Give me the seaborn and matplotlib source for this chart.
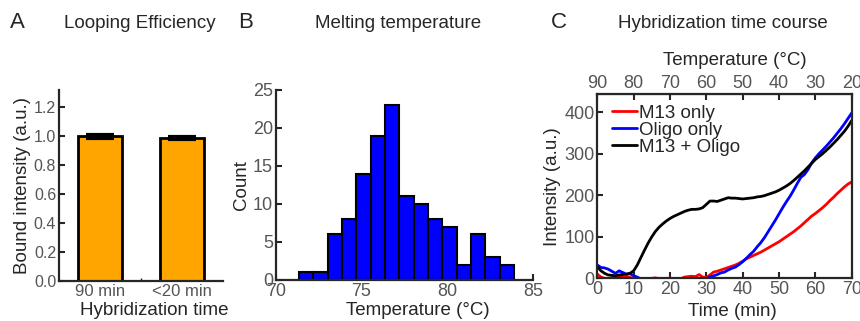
import numpy as np
import pandas as pd
import seaborn as sns
import matplotlib.pyplot as plt

# Panel A - looping efficiency
hyb_labels = ['90 min', '<20 min']
bound_intensity = [1.00, 0.99]
bound_err = [0.012, 0.008]

# Panel B - melting temperature histogram
bin_edges = list(np.linspace(71.36, 83.89, 16))
tm_counts = [1, 1, 6, 8, 14, 19, 23, 11, 10, 8, 7, 2, 6, 3, 2]

# Panel C - hybridization time course (one reading per minute)
time_min = np.arange(0, 71)
m13_only = [10, 3, 0, -2, 1, 2, 3, 2, 4, 2, -1, -4, -6, -5, -3, 0, 1, -1, -4, -2,
            1, -2, 0, -1, 3, 4, 5, 4, 9, 3, 2, 8, 15, 17, 20, 23, 26, 29, 32, 36,
            41, 47, 51, 55, 59, 63, 68, 73, 78, 83, 88, 94, 100, 106, 112, 119, 126, 134, 142, 150,
            156, 163, 170, 178, 187, 195, 204, 212, 220, 227, 232]
oligo_only = [32, 26, 25, 22, 17, 12, 18, 14, 10, 11, 6, 3, -2, -5, -6, -5, -7, -6, -5, -6,
              -5, -6, -7, -5, -6, -5, -6, -5, -4, -3, -1, 3, 6, 9, 13, 15, 20, 24, 27, 33,
              40, 48, 57, 65, 76, 86, 98, 112, 126, 140, 155, 170, 184, 197, 212, 228, 243, 250, 262, 278,
              290, 300, 309, 318, 328, 338, 349, 360, 372, 385, 398]
m13_oligo = [28, 18, 12, 8, 7, 6, 8, 9, 10, 12, 18, 32, 50, 68, 85, 100, 113, 123, 131, 138,
             144, 149, 153, 157, 161, 164, 166, 166, 167, 170, 178, 186, 186, 185, 188, 191, 194, 193, 193, 192,
             191, 192, 193, 194, 196, 197, 199, 202, 205, 208, 212, 217, 222, 228, 235, 243, 251, 259, 268, 277,
             286, 293, 300, 308, 316, 325, 334, 344, 354, 366, 380]

sns.set_style('ticks')
plt.rcParams['font.family'] = ['Liberation Sans', 'DejaVu Sans']
grey = '#555555'

fig = plt.figure(figsize=(8.6, 3.21), dpi=100)

def style_axes(ax, tick_size):
    for s in ax.spines.values():
        s.set_linewidth(1.6)
    ax.tick_params(direction='in', length=4, width=1.5, labelsize=tick_size,
                   labelcolor=grey, pad=2)

def place_xlabel(axis, x, y, transform=None):
    axis.set_label_coords(x, y, transform=transform)
    axis.label.set_va('center')

# ---- A
axA = fig.add_axes([59/860, 40/321, 164/860, 191/321])
dfA = pd.DataFrame({'time': hyb_labels, 'bound': bound_intensity})
sns.barplot(data=dfA, x='time', y='bound', color='#FFA500', saturation=1,
            edgecolor='black', linewidth=2, width=0.53, ax=axA)
axA.errorbar([0, 1], bound_intensity, yerr=bound_err, fmt='none', ecolor='black',
             elinewidth=4, capsize=10, capthick=3)
axA.set_xlim(-0.5, 1.5)
axA.set_ylim(0, 1.32)
axA.set_yticks(np.arange(0, 1.21, 0.2))
axA.set_yticklabels([f'{v:.1f}' for v in np.arange(0, 1.21, 0.2)])
axA.set_xticks([0.5], minor=True)
axA.set_xlabel('Hybridization time', fontsize=13.5)
axA.set_ylabel('Bound intensity (a.u.)', fontsize=13.5, labelpad=2)
sns.despine(ax=axA)
style_axes(axA, 11.5)
axA.tick_params(axis='x', length=0, labelsize=12)
axA.tick_params(axis='x', which='minor', direction='in', length=2, width=1)
place_xlabel(axA.xaxis, 0.579, -0.152)

# ---- B
axB = fig.add_axes([275.7/860, 41/321, 257.5/860, 190/321])
dfB = pd.DataFrame({'temp': (np.array(bin_edges[:-1]) + np.array(bin_edges[1:])) / 2,
                    'count': tm_counts})
sns.histplot(data=dfB, x='temp', weights='count', bins=bin_edges, color='#0000FF', alpha=1,
             edgecolor='black', linewidth=1.5, ax=axB)
axB.set_xlim(70, 85)
axB.set_ylim(0, 25)
axB.set_xticks([70, 75, 80, 85])
axB.set_yticks([0, 5, 10, 15, 20, 25])
axB.set_xlabel('Temperature (°C)', fontsize=13.5)
axB.set_ylabel('Count', fontsize=13.5, labelpad=2)
sns.despine(ax=axB)
style_axes(axB, 13)
place_xlabel(axB.xaxis, 0.551, -0.158)

# ---- C
axC = fig.add_axes([597.3/860, 42.7/321, 254.4/860, 184/321])
dfC = pd.DataFrame({'t': np.concatenate([time_min] * 3),
                    'I': m13_only + oligo_only + m13_oligo,
                    'sample': ['M13 only'] * 71 + ['Oligo only'] * 71 + ['M13 + Oligo'] * 71})
sns.lineplot(data=dfC, x='t', y='I', hue='sample',
             palette={'M13 only': '#FF0000', 'Oligo only': '#0000FF', 'M13 + Oligo': 'black'},
             linewidth=2, ax=axC)
axC.set_xlim(0, 70)
axC.set_ylim(0, 443)
axC.set_xticks(range(0, 71, 10))
axC.set_yticks([0, 100, 200, 300, 400])
axC.set_xlabel('Time (min)', fontsize=13.5)
axC.set_ylabel('Intensity (a.u.)', fontsize=13.5, labelpad=2)
style_axes(axC, 13)
place_xlabel(axC.xaxis, 0.531, -0.18)
leg = axC.legend(loc='upper left', frameon=False, fontsize=13.5, handlelength=1.35,
                 handletextpad=0.1, labelspacing=0.0, borderaxespad=0.2,
                 bbox_to_anchor=(0.014, 1.006))
for h in leg.get_lines():
    h.set_linewidth(2)

top = axC.secondary_xaxis('top', functions=(lambda t: 90 - t, lambda T: 90 - T))
top.set_xticks(range(90, 19, -10))
top.tick_params(direction='in', length=4, width=1.5, labelsize=13, labelcolor=grey, pad=2)
top.set_xlabel('Temperature (°C)', fontsize=13.5)
place_xlabel(top.xaxis, 0.541, 1.186, transform=axC.transAxes)

# panel letters and titles
for x, letter in [(10, 'A'), (238, 'B'), (551, 'C')]:
    fig.text(x/860, 1 - 23/321, letter, fontsize=16, va='center', ha='left')
for x, title in [(140, 'Looping Efficiency'), (398, 'Melting temperature'),
                 (723, 'Hybridization time course')]:
    fig.text(x/860, 1 - 24/321, title, fontsize=13.5, va='center', ha='center')

fig.savefig('out.png', dpi=100)
